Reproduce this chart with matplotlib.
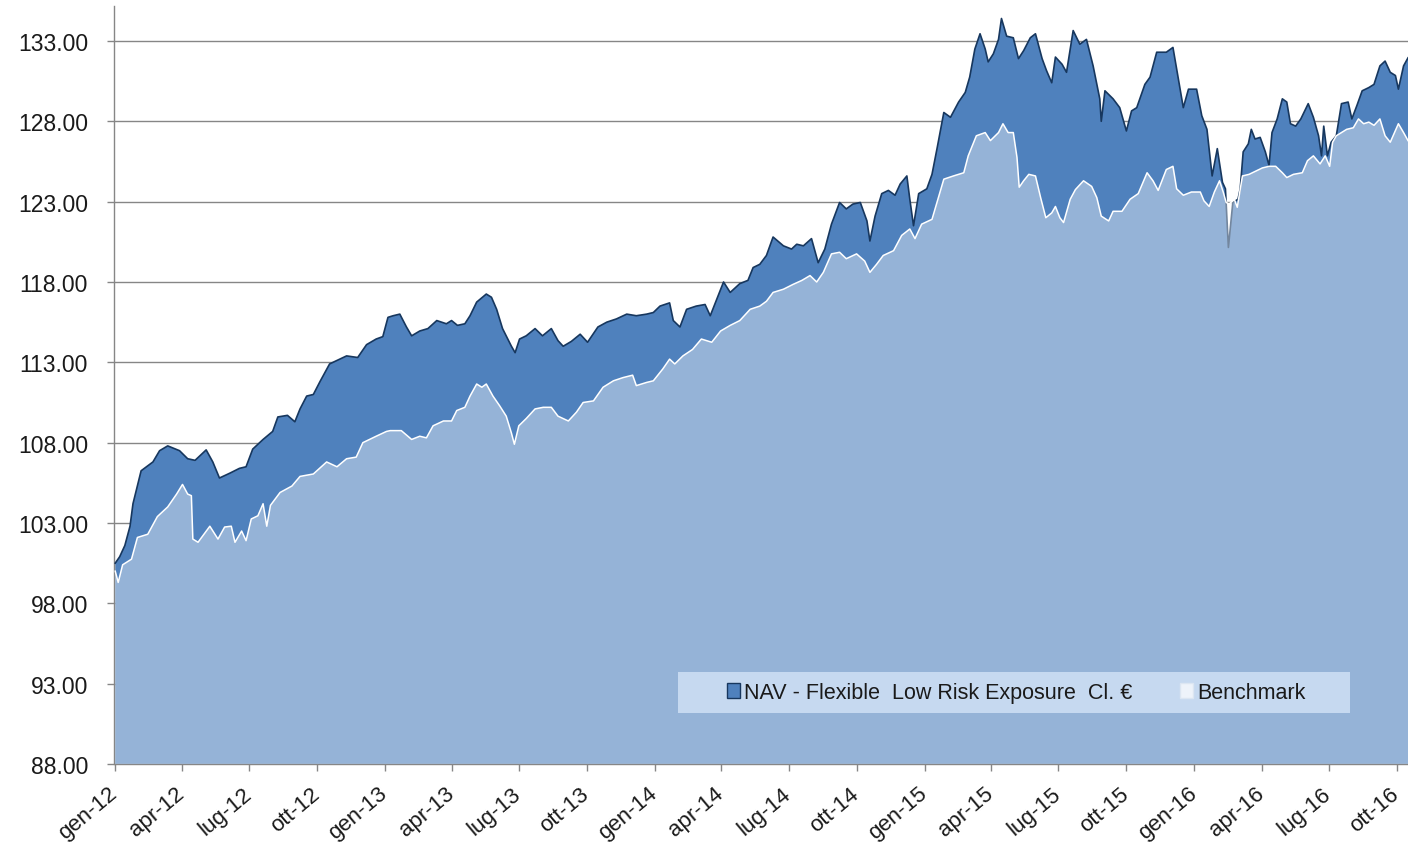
import pandas as pd
import matplotlib
matplotlib.use("Agg")
import matplotlib.pyplot as plt
import matplotlib.transforms as mtransforms
from matplotlib.patches import Patch, Rectangle

# NAV of the fund
nav_dates = [
    '2012-01-02', '2012-01-08', '2012-01-15', '2012-01-22', '2012-01-26', '2012-02-06', '2012-02-22', '2012-03-02', '2012-03-13', '2012-03-29',
    '2012-04-09', '2012-04-19', '2012-05-04', '2012-05-13', '2012-05-22', '2012-06-05', '2012-06-18', '2012-06-27', '2012-07-06', '2012-07-20',
    '2012-08-02', '2012-08-09', '2012-08-22', '2012-09-01', '2012-09-08', '2012-09-17', '2012-09-26', '2012-10-05', '2012-10-18', '2012-11-01',
    '2012-11-10', '2012-11-25', '2012-12-07', '2012-12-20', '2012-12-29',
    '2013-01-05', '2013-01-12', '2013-01-21', '2013-01-30', '2013-02-06', '2013-02-17', '2013-02-28', '2013-03-12', '2013-03-25', '2013-04-01',
    '2013-04-09', '2013-04-19', '2013-04-26', '2013-05-05', '2013-05-18', '2013-05-25', '2013-06-01', '2013-06-09', '2013-06-21', '2013-06-26',
    '2013-07-02', '2013-07-11', '2013-07-23', '2013-08-02', '2013-08-14', '2013-08-23', '2013-08-30', '2013-09-10', '2013-09-22', '2013-10-02',
    '2013-10-16', '2013-10-28', '2013-11-10', '2013-11-24', '2013-12-07', '2013-12-21', '2013-12-30',
    '2014-01-08', '2014-01-21', '2014-01-26', '2014-02-04', '2014-02-13', '2014-02-26', '2014-03-10', '2014-03-17', '2014-03-23', '2014-04-04',
    '2014-04-13', '2014-04-26', '2014-05-07', '2014-05-14', '2014-05-23', '2014-06-01', '2014-06-10', '2014-06-24', '2014-07-05', '2014-07-12',
    '2014-07-21', '2014-08-01', '2014-08-10', '2014-08-19', '2014-08-28', '2014-09-08', '2014-09-17', '2014-09-26', '2014-10-06', '2014-10-15',
    '2014-10-19', '2014-10-26', '2014-11-04', '2014-11-13', '2014-11-22', '2014-11-29', '2014-12-08', '2014-12-12', '2014-12-17', '2014-12-24',
    '2015-01-04', '2015-01-11', '2015-01-18', '2015-01-27', '2015-02-05', '2015-02-16', '2015-02-25', '2015-03-03', '2015-03-10', '2015-03-17',
    '2015-03-24', '2015-03-28', '2015-04-04', '2015-04-11', '2015-04-15', '2015-04-22', '2015-05-01', '2015-05-08', '2015-05-15', '2015-05-24',
    '2015-05-31', '2015-06-09', '2015-06-15', '2015-06-22', '2015-06-27', '2015-07-06', '2015-07-12', '2015-07-21', '2015-07-30', '2015-08-08',
    '2015-08-17', '2015-08-26', '2015-08-28', '2015-09-02', '2015-09-13', '2015-09-22', '2015-10-01', '2015-10-08', '2015-10-15', '2015-10-26',
    '2015-11-02', '2015-11-11', '2015-11-24', '2015-12-03', '2015-12-08', '2015-12-17', '2015-12-24',
    '2016-01-04', '2016-01-11', '2016-01-18', '2016-01-25', '2016-02-01', '2016-02-08', '2016-02-12', '2016-02-16', '2016-02-22', '2016-02-29',
    '2016-03-03', '2016-03-07', '2016-03-14', '2016-03-18', '2016-03-23', '2016-03-30', '2016-04-06', '2016-04-11', '2016-04-15', '2016-04-22',
    '2016-04-29', '2016-05-05', '2016-05-10', '2016-05-17', '2016-05-24', '2016-06-03', '2016-06-10', '2016-06-17', '2016-06-21', '2016-06-24',
    '2016-06-29', '2016-07-04', '2016-07-11', '2016-07-18', '2016-07-27', '2016-08-01', '2016-08-08', '2016-08-15', '2016-08-24', '2016-08-31',
    '2016-09-08', '2016-09-15', '2016-09-22', '2016-09-29', '2016-10-03', '2016-10-10', '2016-10-16',
]
nav_values = [
    100.5, 100.9, 101.6, 102.8, 104.2, 106.25, 106.8, 107.5, 107.8, 107.5,
    107.0, 106.9, 107.55, 106.8, 105.8, 106.1, 106.4, 106.5, 107.6, 108.2,
    108.7, 109.6, 109.7, 109.3, 110.1, 110.9, 111.0, 111.8, 112.9, 113.2,
    113.4, 113.3, 114.1, 114.45, 114.6,
    115.8, 115.9, 116.0, 115.2, 114.65, 114.95, 115.1, 115.6, 115.4, 115.6,
    115.3, 115.4, 115.9, 116.75, 117.25, 117.05, 116.3, 115.1, 114.0, 113.6,
    114.45, 114.65, 115.1, 114.65, 115.1, 114.35, 114.0, 114.3, 114.75, 114.25,
    115.2, 115.5, 115.7, 116.0, 115.9, 116.0, 116.1,
    116.5, 116.7, 115.6, 115.2, 116.3, 116.5, 116.6, 115.9, 116.6, 118.0,
    117.35, 117.9, 118.1, 118.9, 119.1, 119.65, 120.8, 120.25, 120.05, 120.35,
    120.25, 120.7, 119.2, 120.05, 121.6, 122.95, 122.55, 122.85, 122.95, 121.8,
    120.55, 122.1, 123.5, 123.7, 123.4, 124.1, 124.6, 123.15, 121.5, 123.5,
    123.8, 124.7, 126.35, 128.55, 128.25, 129.2, 129.8, 130.75, 132.5, 133.45,
    132.5, 131.7, 132.2, 133.1, 134.4, 133.3, 133.2, 131.9, 132.4, 133.2,
    133.45, 131.9, 131.15, 130.4, 132.0, 131.55, 131.05, 133.65, 132.8, 133.1,
    131.45, 129.4, 128.0, 129.9, 129.4, 128.85, 127.4, 128.65, 128.85, 130.3,
    130.75, 132.3, 132.3, 132.6, 131.25, 128.85, 130.0,
    130.0, 128.35, 127.5, 124.6, 126.3, 124.2, 123.8, 120.15, 122.95, 123.15,
    123.8, 126.1, 126.6, 127.5, 126.9, 127.0, 126.1, 125.25, 127.3, 128.15,
    129.4, 129.2, 127.85, 127.7, 128.15, 129.1, 128.25, 127.1, 125.85, 127.7,
    125.85, 126.7, 127.1, 129.1, 129.2, 128.15, 129.0, 129.9, 130.1, 130.3,
    131.45, 131.75, 131.05, 130.85, 130.0, 131.45, 131.95,
]

# Benchmark
bench_dates = [
    '2012-01-02', '2012-01-06', '2012-01-12', '2012-01-24', '2012-02-01', '2012-02-15', '2012-02-28', '2012-03-13', '2012-03-25', '2012-04-02',
    '2012-04-09', '2012-04-14', '2012-04-16', '2012-04-23', '2012-05-09', '2012-05-20', '2012-05-29', '2012-06-07', '2012-06-12', '2012-06-21',
    '2012-06-27', '2012-07-04', '2012-07-13', '2012-07-20', '2012-07-25', '2012-07-30', '2012-08-12', '2012-08-28', '2012-09-08', '2012-09-26',
    '2012-10-14', '2012-10-28', '2012-11-10', '2012-11-23', '2012-12-02', '2012-12-20',
    '2013-01-03', '2013-01-08', '2013-01-23', '2013-02-06', '2013-02-17', '2013-02-26', '2013-03-07', '2013-03-21', '2013-04-01', '2013-04-08',
    '2013-04-19', '2013-04-26', '2013-05-05', '2013-05-12', '2013-05-18', '2013-05-27', '2013-06-05', '2013-06-14', '2013-06-21', '2013-06-25',
    '2013-07-01', '2013-07-11', '2013-07-23', '2013-08-03', '2013-08-14', '2013-08-23', '2013-09-06', '2013-09-17', '2013-09-26', '2013-10-10',
    '2013-10-23', '2013-11-06', '2013-11-19', '2013-12-02', '2013-12-07', '2013-12-21', '2013-12-30',
    '2014-01-12', '2014-01-21', '2014-01-28', '2014-02-08', '2014-02-21', '2014-03-05', '2014-03-19', '2014-03-31', '2014-04-13', '2014-04-26',
    '2014-05-10', '2014-05-23', '2014-06-01', '2014-06-10', '2014-06-24', '2014-07-07', '2014-07-19', '2014-07-30', '2014-08-08', '2014-08-17',
    '2014-08-28', '2014-09-08', '2014-09-17', '2014-10-01', '2014-10-12', '2014-10-19', '2014-10-28', '2014-11-06', '2014-11-20', '2014-12-01',
    '2014-12-12', '2014-12-19', '2014-12-28',
    '2015-01-11', '2015-01-20', '2015-01-27', '2015-02-09', '2015-02-23', '2015-03-01', '2015-03-12', '2015-03-24', '2015-03-31', '2015-04-11',
    '2015-04-17', '2015-04-24', '2015-05-01', '2015-05-06', '2015-05-09', '2015-05-15', '2015-05-22', '2015-05-31', '2015-06-07', '2015-06-14',
    '2015-06-22', '2015-06-27', '2015-07-03', '2015-07-08', '2015-07-17', '2015-07-24', '2015-08-04', '2015-08-15', '2015-08-22', '2015-08-28',
    '2015-09-07', '2015-09-13', '2015-09-25', '2015-10-06', '2015-10-17', '2015-10-29', '2015-11-06', '2015-11-13', '2015-11-24', '2015-12-03',
    '2015-12-08', '2015-12-17', '2015-12-28',
    '2016-01-09', '2016-01-14', '2016-01-21', '2016-01-28', '2016-02-04', '2016-02-09', '2016-02-13', '2016-02-17', '2016-02-24', '2016-02-28',
    '2016-03-06', '2016-03-15', '2016-03-24', '2016-04-02', '2016-04-11', '2016-04-20', '2016-04-29', '2016-05-05', '2016-05-14', '2016-05-26',
    '2016-06-02', '2016-06-10', '2016-06-19', '2016-06-26', '2016-07-02', '2016-07-06', '2016-07-11', '2016-07-18', '2016-07-25', '2016-08-03',
    '2016-08-10', '2016-08-17', '2016-08-24', '2016-08-31', '2016-09-08', '2016-09-15', '2016-09-22', '2016-10-03', '2016-10-10', '2016-10-16',
]
bench_values = [
    100.0, 99.3, 100.4, 100.75, 102.1, 102.3, 103.4, 104.0, 104.8, 105.4,
    104.8, 104.7, 102.0, 101.8, 102.8, 102.0, 102.75, 102.8, 101.8, 102.5,
    101.9, 103.25, 103.45, 104.2, 102.8, 104.1, 104.9, 105.3, 105.9, 106.05,
    106.8, 106.5, 107.0, 107.1, 108.0, 108.4,
    108.7, 108.75, 108.75, 108.2, 108.4, 108.3, 109.05, 109.35, 109.35, 110.0,
    110.2, 110.9, 111.65, 111.45, 111.65, 110.9, 110.3, 109.65, 108.6, 107.9,
    109.05, 109.5, 110.1, 110.2, 110.2, 109.65, 109.35, 109.9, 110.5, 110.6,
    111.45, 111.85, 112.05, 112.2, 111.55, 111.75, 111.85,
    112.6, 113.2, 112.9, 113.4, 113.8, 114.45, 114.25, 114.95, 115.3, 115.6,
    116.3, 116.5, 116.8, 117.35, 117.55, 117.85, 118.1, 118.4, 118.0, 118.6,
    119.75, 119.85, 119.45, 119.75, 119.3, 118.6, 119.1, 119.65, 119.95, 120.9,
    121.3, 120.7, 121.6,
    121.9, 123.3, 124.4, 124.6, 124.8, 125.85, 127.1, 127.3, 126.8, 127.3,
    127.85, 127.3, 127.3, 125.75, 123.9, 124.3, 124.7, 124.6, 123.25, 122.0,
    122.3, 122.7, 122.0, 121.7, 123.15, 123.75, 124.3, 123.95, 123.25, 122.1,
    121.8, 122.4, 122.4, 123.15, 123.5, 124.8, 124.3, 123.7, 125.0, 125.2,
    123.8, 123.4, 123.6,
    123.6, 123.05, 122.7, 123.6, 124.3, 123.6, 122.95, 122.85, 123.15, 122.65,
    124.6, 124.7, 124.9, 125.1, 125.2, 125.2, 124.8, 124.5, 124.7, 124.8,
    125.55, 125.85, 125.35, 125.85, 125.2, 126.7, 127.1, 127.3, 127.5, 127.6,
    128.15, 127.85, 127.95, 127.75, 128.15, 127.1, 126.7, 127.85, 127.3, 126.8,
]

series_names = ['NAV - Flexible  Low Risk Exposure  Cl. \u20ac', 'Benchmark']
y_ticks = [88, 93, 98, 103, 108, 113, 118, 123, 128, 133]
mesi = ['gen', 'feb', 'mar', 'apr', 'mag', 'giu', 'lug', 'ago', 'set', 'ott', 'nov', 'dic']

nav_x = pd.to_datetime(nav_dates)
bench_x = pd.to_datetime(bench_dates)

plt.rcParams['font.family'] = ['Liberation Sans', 'DejaVu Sans']

fig = plt.figure(figsize=(14.08, 8.45), dpi=100)
ax = fig.add_axes([114.5 / 1408, 80 / 845, 1 - 114.5 / 1408, 758 / 845])

nav_fill = '#4F81BD'
nav_line = '#17375E'

# NAV area behind, benchmark as a translucent white area on top
ax.fill_between(nav_x, nav_values, 0, color=nav_fill, lw=0, zorder=2)
ax.plot(nav_x, nav_values, color=nav_line, lw=1.2, zorder=3)
ax.fill_between(bench_x, bench_values, 0, color='white', alpha=0.4, lw=0, zorder=4)
ax.plot(bench_x, bench_values, color='white', lw=1.1, zorder=5)

ax.set_ylim(88, 88 + 758 / 16.067)
ax.set_xlim(pd.Timestamp('2012-01-01'), pd.Timestamp('2016-10-16'))

ax.set_yticks(y_ticks)
ax.set_yticklabels(['%.2f' % v for v in y_ticks])
ax.yaxis.grid(True, color='#868686', lw=1)
ax.set_axisbelow(True)

# quarterly ticks with italian month names
xt = pd.date_range('2012-01-01', '2016-10-01', freq='QS')
ax.set_xticks(xt)
ax.set_xticklabels(['%s-%02d' % (mesi[d.month - 1], d.year % 100) for d in xt],
                   rotation=40, ha='right', rotation_mode='anchor')

for s in ['top', 'right']:
    ax.spines[s].set_visible(False)
for s in ['left', 'bottom']:
    ax.spines[s].set_color('#868686')
    ax.spines[s].set_linewidth(1)
ax.tick_params(axis='both', colors='#868686', labelcolor='#1a1a1a', length=5, width=1)
ax.tick_params(axis='y', labelsize=16.5, pad=14)
ax.tick_params(axis='x', labelsize=16, pad=8.5)

# nudge the rotated month labels so their ends sit at the ticks
offset = mtransforms.ScaledTranslation(-7 / 100, 0, fig.dpi_scale_trans)
for lab in ax.get_xticklabels():
    lab.set_transform(lab.get_transform() + offset)

# legend box
ax.add_patch(Rectangle((678, 845 - 714), 672, 41, transform=None, facecolor='#C6D9F0',
                       edgecolor='none', zorder=6))
handles = [Patch(facecolor=nav_fill, edgecolor=nav_line, lw=1),
           Patch(facecolor='#EEF3FA', edgecolor='#DCE6F2', lw=1)]
leg = ax.legend(handles, series_names, ncol=2, frameon=False, loc='center',
                bbox_to_anchor=(1016 / 1408, (845 - 693.5) / 845), bbox_transform=fig.transFigure,
                prop={'size': 15.5}, handlelength=0.6, handleheight=0.75, handletextpad=0.2,
                columnspacing=2.2, labelcolor='#1a1a1a')
leg.set_zorder(7)

fig.savefig('out.png', dpi=100)
